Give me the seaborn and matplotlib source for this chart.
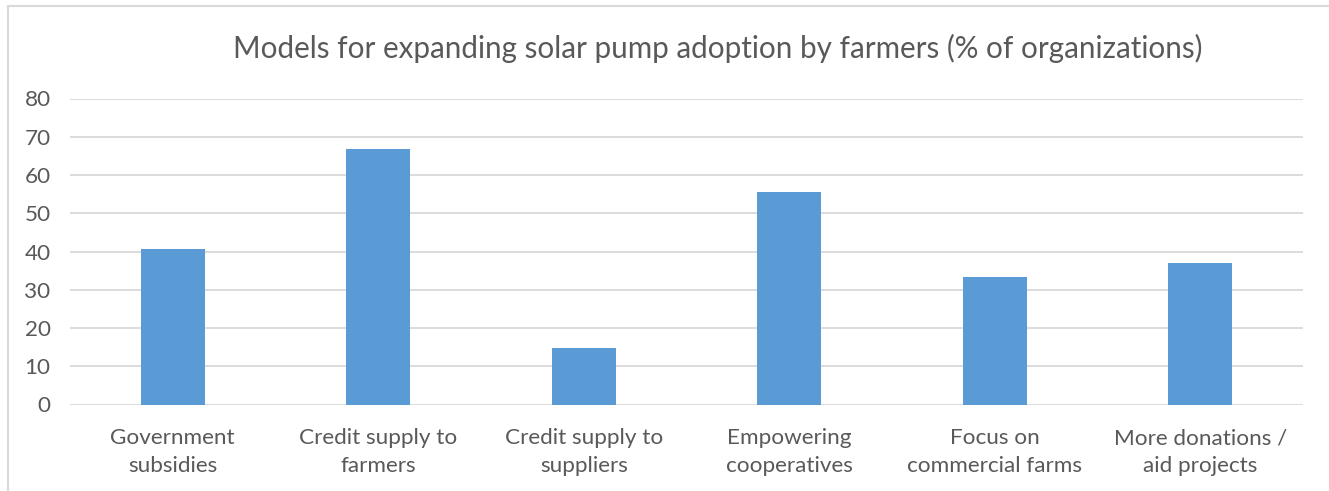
import matplotlib
matplotlib.use("Agg")
import matplotlib.pyplot as plt
import seaborn as sns
import pandas as pd
from matplotlib.patches import Rectangle

categories = ["Government\nsubsidies", "Credit supply to\nfarmers", "Credit supply to\nsuppliers",
              "Empowering\ncooperatives", "Focus on\ncommercial farms", "More donations /\naid projects"]
values = [40.7, 66.7, 14.8, 55.6, 33.3, 37.0]
title = "Models for expanding solar pump adoption by farmers (% of organizations)"
yticks = [0, 10, 20, 30, 40, 50, 60, 70, 80]

sns.set_theme(style="white")
plt.rcParams['font.family'] = ['Lato', 'DejaVu Sans']

W, H = 1329, 491
fig = plt.figure(figsize=(W / 100, H / 100), dpi=100)
ax = fig.add_axes([70 / W, 1 - 404.5 / H, (1303 - 70) / W, (404.5 - 98.5) / H])

df = pd.DataFrame({"cat": categories, "val": values})
sns.barplot(data=df, x="cat", y="val", color="#5b9bd5", width=0.31, ax=ax,
            saturation=1, edgecolor="#5b9bd5", linewidth=0)

ax.set_ylim(0, 80)
ax.set_xlim(-0.5, len(categories) - 0.5)
ax.set_yticks(yticks)
ax.yaxis.grid(True, color="#d9d9d9", linewidth=1.3)
ax.set_axisbelow(True)
for s in ax.spines.values():
    s.set_visible(False)
ax.set_xlabel("")
ax.set_ylabel("")
ax.tick_params(axis="both", length=0, labelsize=16.2, colors="#595959")
ax.tick_params(axis="y", pad=14)
ax.tick_params(axis="x", pad=17)
for lab in ax.get_xticklabels():
    lab.set_linespacing(1.5)

fig.text(718 / W, 1 - 48 / H, title, ha="center", va="center", fontsize=21.3, color="#595959")

# chart border
fig.patches.append(Rectangle((8 / W, -0.1), 1.2, 1.1 - 6 / H, transform=fig.transFigure,
                             fill=False, edgecolor="#d9d9d9", linewidth=1.5))

fig.savefig("out.png", dpi=100)
